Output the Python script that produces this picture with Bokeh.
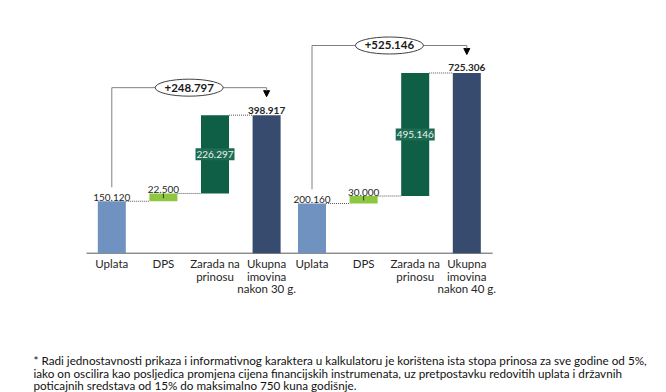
from bokeh.plotting import figure
from bokeh.models import Range1d, Arrow, NormalHead
from bokeh.core.properties import value
from bokeh.embed import file_html
from bokeh.resources import INLINE

# ---------------- data ----------------
categories = ["Uplata", "DPS", "Zarada na\nprinosu", "Ukupna\nimovina\nnakon {} g."]
years = [30, 40]
uplata = [150120, 200160]
dps = [22500, 30000]
zarada = [226297, 495146]
ukupno = [398917, 725306]
gain = [248797, 525146]
footnote = [
    "* Radi jednostavnosti prikaza i informativnog karaktera u kalkulatoru je korištena ista stopa prinosa za sve godine od 5%,",
    "iako on oscilira kao posljedica promjena cijena financijskih instrumenata, uz pretpostavku redovitih uplata i državnih",
    "poticajnih sredstava od 15% do maksimalno 750 kuna godišnje.",
]

# ---------------- layout ----------------
W, H = 666, 392
BASE = 252.7            # canvas y (from top) of the category axis
KPX = [2890, 4025]      # value units per pixel, left / right panel
XPX = 51.6              # pixels per category step
X0PX = 111.3            # canvas x of first bar centre
GROUP_START = [0.0, 3.88]
BW = 0.543
FONT = value("Lato")
TXT = "#262626"
COLORS = ["#7092C0", "#8DC63F", "#0F5E46", "#364B6E"]


def fmt(v):
    return f"{v:,}".replace(",", ".")


p = figure(width=W, height=H,
           x_range=Range1d(-X0PX / XPX, (W - X0PX) / XPX),
           y_range=Range1d(-(H - BASE) * KPX[0], BASE * KPX[0]),
           output_backend="svg", toolbar_location=None,
           x_axis_location=None, y_axis_location=None, min_border=0)
p.extra_y_ranges = {"r": Range1d(-(H - BASE) * KPX[1], BASE * KPX[1])}
p.grid.visible = False
p.outline_line_color = None
p.background_fill_color = "white"

# axis line
p.segment(x0=[GROUP_START[0] - 0.49], x1=[GROUP_START[1] + 3.5], y0=[0], y1=[0],
          line_color="#595959", line_width=1)

for g in range(2):
    rn = "default" if g == 0 else "r"
    s = KPX[g]
    xs = [GROUP_START[g] + i for i in range(4)]
    U, D, Z, T = uplata[g], dps[g], zarada[g], ukupno[g]
    bottoms = [0, U, U + D, 0]
    tops = [U, U + D, U + D + Z, T]
    p.vbar(x=xs, width=BW, bottom=bottoms, top=tops, fill_color=COLORS,
           line_color=None, y_range_name=rn)

    # dotted connectors
    hw = BW / 2
    p.segment(x0=[xs[0] + hw, xs[1] + hw, xs[2] + hw],
              x1=[xs[1] - hw, xs[2] - hw, xs[3] - hw],
              y0=[U, U + D, T], y1=[U, U + D, T],
              line_color="#555555", line_width=1, line_dash="1 1", y_range_name=rn)

    # DPS tick
    p.segment(x0=[xs[1]], x1=[xs[1]], y0=[U + D], y1=[U + D - 0.6 * D],
              line_color="#333333", line_width=1, y_range_name=rn)

    # value labels
    p.text(x=[xs[0], xs[1]], y=[U, U + D], text=[fmt(U), fmt(D)],
           text_font=FONT, text_font_size="10px", text_color=TXT,
           text_align="center", text_baseline="alphabetic", y_offset=-4,
           y_range_name=rn)
    p.text(x=[xs[3]], y=[T], text=[fmt(T)], text_font=FONT, text_font_size="10px",
           text_font_style="bold", text_color=TXT, text_align="center",
           text_baseline="alphabetic", y_offset=-5, y_range_name=rn)
    p.rect(x=[xs[2]], y=[U + D + Z / 2], width=39, height=12, width_units="screen",
           height_units="screen", fill_color="#1D6B52", line_color=None, y_range_name=rn)
    p.text(x=[xs[2]], y=[U + D + Z / 2], text=[fmt(Z)], text_font=FONT,
           text_font_size="10px", text_color="#E8F5EE", text_align="center",
           text_baseline="middle", y_range_name=rn)

    # category labels
    cats = categories[:3] + [categories[3].format(years[g])]
    p.text(x=xs, y=[0] * 4, text=cats, text_font=FONT, text_font_size="11.5px",
           text_color=TXT, text_align="center", text_baseline="top", y_offset=4,
           text_line_height=0.97, y_range_name=rn)

    # bracket with difference
    yb = U + 14 * s
    yt = T + 27.5 * s
    tip = T + 18.5 * s
    p.segment(x0=[xs[0], xs[0]], x1=[xs[0], xs[3]], y0=[yb, yt], y1=[yt, yt],
              line_color="#808080", line_width=1, y_range_name=rn)
    p.add_layout(Arrow(x_start=xs[3], y_start=yt, x_end=xs[3], y_end=tip,
                       line_color="#808080", line_width=1, y_range_name=rn,
                       end=NormalHead(size=6, fill_color="black", line_color="black")))
    xm = (xs[0] + xs[3]) / 2
    p.ellipse(x=[xm], y=[yt], width=68, height=17, width_units="screen",
              height_units="screen", fill_color="white", line_color="#404040",
              line_width=1, y_range_name=rn)
    p.text(x=[xm], y=[yt], text=["+" + fmt(gain[g])], text_font=FONT,
           text_font_size="11.5px", text_font_style="bold", text_color="#1a1a1a",
           text_align="center", text_baseline="middle", y_range_name=rn)

# footnote
fx = -X0PX / XPX + 33 / XPX
fy = [(BASE - pg) * KPX[0] for pg in (359.5, 372, 384.5)]
p.text(x=[fx] * 3, y=fy, text=footnote, text_font=FONT, text_font_size="11.7px",
       text_color="#111111", text_align="left", text_baseline="alphabetic")

open("out.html", "w").write(file_html(p, INLINE))
